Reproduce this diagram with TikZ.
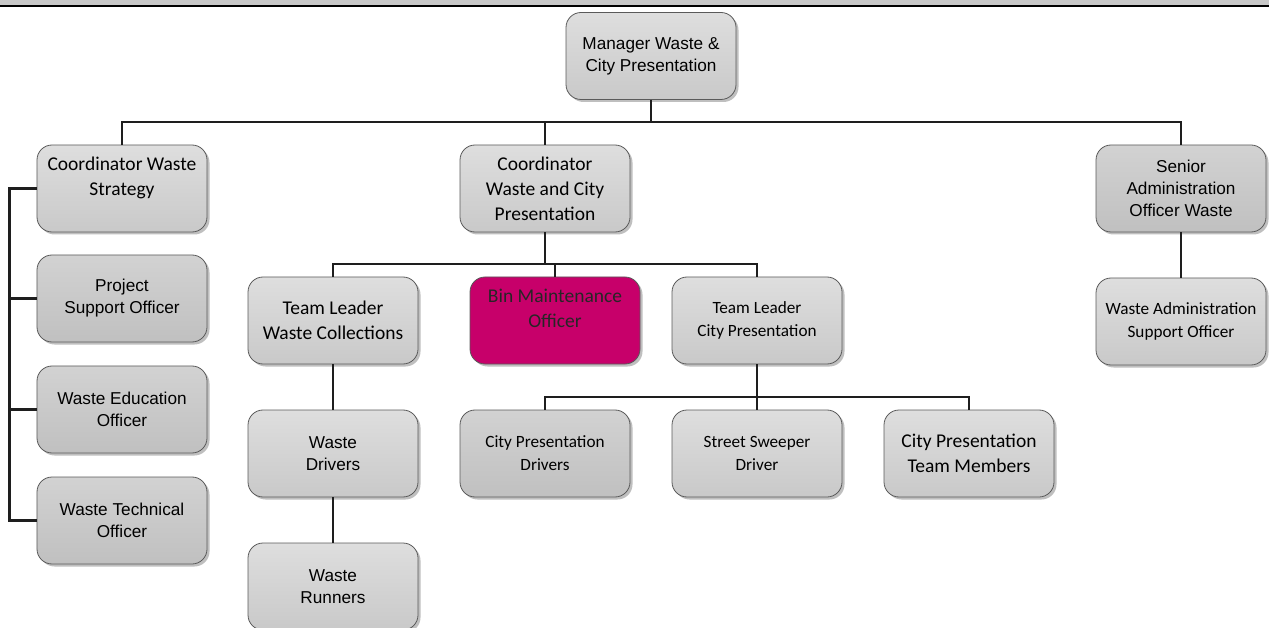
\documentclass[tikz,border=0pt]{standalone}
\usepackage{fontspec}
\newfontfamily\calfont{Carlito}
\newfontfamily\arifont{Liberation Sans}
\usetikzlibrary{shadows}
\definecolor{boxtop}{HTML}{DEDEDE}
\definecolor{boxbot}{HTML}{C9C9C9}
\definecolor{boxdtop}{HTML}{D2D2D2}
\definecolor{boxdbot}{HTML}{C0C0C0}
\definecolor{boxedge}{HTML}{5A5A5A}
\definecolor{magentabox}{HTML}{C7006A}
\definecolor{lineclr}{HTML}{1E1E1E}
\definecolor{bandclr}{HTML}{C8C8C8}
\tikzset{
  orgbox/.style={draw=boxedge, line width=0.8bp, rounded corners=15bp,
    minimum width=170bp, minimum height=87bp, inner sep=2bp, align=center,
    top color=boxtop, bottom color=boxbot, text=black,
    drop shadow={shadow xshift=2.5bp, shadow yshift=-2.5bp, opacity=0.25, fill=black}},
  darkbox/.style={orgbox, top color=boxdtop, bottom color=boxdbot},
  pinkbox/.style={orgbox, top color=magentabox, bottom color=magentabox, text=black!85},
  cal/.style={font=\calfont\fontsize{19.5bp}{25bp}\selectfont},
  calsm/.style={font=\calfont\fontsize{17.2bp}{23bp}\selectfont},
  ari/.style={font=\arifont\fontsize{17.2bp}{22bp}\selectfont},
  conn/.style={draw=lineclr, line width=2.3bp}
}
\begin{document}
\begin{tikzpicture}[x=1bp,y=-1bp]
\useasboundingbox (0,0) rectangle (1269,628);
\fill[bandclr] (0,0) rectangle (1269,5);
\draw[black, line width=2.2bp] (0,6) -- (1269,6);

\coordinate (b1) at (651,122);
\coordinate (b2) at (545,264);
\coordinate (b3) at (757,397);

\node[orgbox, ari] (mgr) at (651,56) {Manager Waste \&\\City Presentation};
\node[orgbox, cal] (cws) at (122,188.5) {Coordinator Waste\\Strategy\\\mbox{}};
\node[darkbox, ari] (pso) at (122,298.5) {Project\\Support Officer};
\node[darkbox, ari] (weo) at (122,409.5) {Waste Education\\Officer};
\node[darkbox, ari] (wto) at (122,520.5) {Waste Technical\\Officer};
\node[orgbox, cal] (cwc) at (545,188.5) {Coordinator\\Waste and City\\Presentation};
\node[darkbox, ari] (sao) at (1181,188.5) {Senior\\Administration\\Officer Waste};
\node[orgbox, calsm] (was) at (1181,321.5) {Waste Administration\\Support Officer};
\node[orgbox, cal] (tlwc) at (333,320.5) {Team Leader\\Waste Collections};
\node[pinkbox, cal] (bmo) at (555,320.5) {Bin Maintenance\\Officer\\\mbox{}};
\node[orgbox, calsm] (tlcp) at (757,320.5) {Team Leader\\City Presentation};
\node[orgbox, ari] (wd) at (333,453.5) {Waste\\Drivers};
\node[orgbox, ari] (wr) at (333,586.5) {Waste\\Runners};
\node[darkbox, calsm] (cpd) at (545,453.5) {City Presentation\\Drivers};
\node[orgbox, calsm] (ssd) at (757,453.5) {Street Sweeper\\Driver};
\node[orgbox, cal] (cptm) at (969,453.5) {City Presentation\\Team Members};

\draw[conn] (mgr.south) -- (b1);
\draw[conn] (cws.north) |- (b1) -| (sao.north);
\draw[conn] (cwc.north) -- (cwc.north |- b1);
\draw[conn] (cws.west) -- ++(-27,0) |- (wto.west);
\draw[conn] (pso.west) -- ++(-27,0);
\draw[conn] (weo.west) -- ++(-27,0);
\draw[conn] (cwc.south) -- (b2);
\draw[conn] (tlwc.north) |- (b2) -| (tlcp.north);
\draw[conn] (bmo.north) -- (bmo.north |- b2);
\draw[conn] (tlcp.south) -- (b3);
\draw[conn] (cpd.north) |- (b3) -| (cptm.north);
\draw[conn] (b3) -- (ssd.north);
\draw[conn] (tlwc.south) -- (wd.north);
\draw[conn] (wd.south) -- (wr.north);
\draw[conn] (sao.south) -- (was.north);
\end{tikzpicture}
\end{document}
